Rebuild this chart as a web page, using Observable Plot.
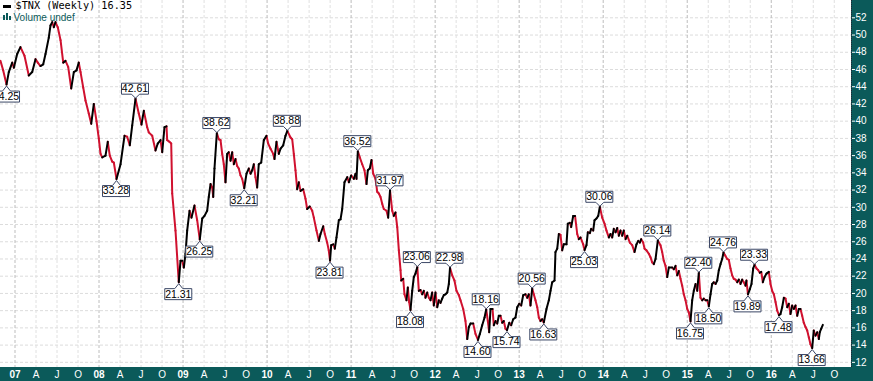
<!DOCTYPE html>
<html><head><meta charset="utf-8">
<script src="https://cdn.jsdelivr.net/npm/d3@7"></script>
<script src="https://cdn.jsdelivr.net/npm/@observablehq/plot@0.6"></script>
<style>
html,body{margin:0;padding:0;background:#fff;}
#wrap{position:relative;width:873px;height:381px;overflow:hidden;background:#fff;}
.panel{position:absolute;background:#0b5a5a;}
#chart{position:absolute;left:0;top:0;}
#dash{position:absolute;left:3px;top:5px;width:8px;height:2.5px;background:#000;}
.bar{position:absolute;background:#0b5a5a;width:2px;}
</style></head><body>
<div id="wrap">
  <div class="panel" style="left:851px;top:0;width:22px;height:381px"></div>
  <div class="panel" style="left:0;top:367px;width:873px;height:14px"></div>
  <div id="chart"></div>
  <div id="dash"></div>
  <div class="bar" style="left:3px;top:15px;height:5px"></div>
  <div class="bar" style="left:6px;top:13px;height:7px"></div>
  <div class="bar" style="left:9px;top:16px;height:4px"></div>
</div>
<script>
// Weekly $TNX (decimal year, value)
const times = [
2006.827,2006.859,2006.899,2006.926,2006.967,2006.986,2007.026,2007.065,2007.113,2007.164,
2007.205,2007.244,2007.271,2007.303,2007.336,2007.363,2007.402,2007.422,2007.443,2007.462,
2007.482,2007.509,2007.542,2007.574,2007.601,2007.633,2007.669,2007.700,2007.732,2007.759,
2007.780,2007.812,2007.839,2007.878,2007.907,2007.938,2007.970,2007.997,2008.018,2008.038,
2008.077,2008.104,2008.128,2008.157,2008.176,2008.208,2008.256,2008.303,2008.335,2008.366,
2008.395,2008.434,2008.473,2008.505,2008.533,2008.573,2008.592,2008.633,2008.672,2008.699,
2008.732,2008.752,2008.779,2008.803,2008.811,2008.839,2008.859,2008.871,2008.910,2008.949,
2008.970,2008.990,2009.009,2009.029,2009.049,2009.077,2009.100,2009.136,2009.168,2009.199,
2009.228,2009.255,2009.287,2009.306,2009.327,2009.347,2009.359,2009.374,2009.402,2009.425,
2009.446,2009.466,2009.485,2009.505,2009.525,2009.544,2009.565,2009.585,2009.604,2009.624,
2009.644,2009.663,2009.684,2009.704,2009.728,2009.755,2009.782,2009.803,2009.823,2009.842,
2009.862,2009.882,2009.901,2009.930,2009.961,2009.993,2010.013,2010.041,2010.073,2010.088,
2010.112,2010.139,2010.160,2010.192,2010.219,2010.241,2010.279,2010.299,2010.318,2010.338,
2010.358,2010.378,2010.398,2010.430,2010.457,2010.477,2010.508,2010.537,2010.556,2010.588,
2010.616,2010.636,2010.668,2010.687,2010.715,2010.734,2010.749,2010.763,2010.787,2010.806,
2010.826,2010.854,2010.874,2010.894,2010.921,2010.954,2010.973,2011.001,2011.032,2011.052,
2011.064,2011.080,2011.103,2011.132,2011.159,2011.183,2011.199,2011.222,2011.243,2011.263,
2011.290,2011.311,2011.330,2011.350,2011.370,2011.389,2011.421,2011.441,2011.463,2011.489,
2011.508,2011.528,2011.549,2011.568,2011.588,2011.596,2011.620,2011.635,2011.659,2011.675,
2011.691,2011.707,2011.727,2011.746,2011.766,2011.788,2011.806,2011.826,2011.846,2011.865,
2011.885,2011.906,2011.925,2011.945,2011.965,2011.984,2012.004,2012.025,2012.044,2012.064,
2012.084,2012.103,2012.123,2012.144,2012.163,2012.177,2012.203,2012.230,2012.254,2012.282,
2012.302,2012.334,2012.361,2012.382,2012.401,2012.421,2012.453,2012.480,2012.510,2012.532,
2012.560,2012.588,2012.608,2012.627,2012.643,2012.659,2012.683,2012.698,2012.718,2012.739,
2012.758,2012.778,2012.798,2012.817,2012.837,2012.855,2012.882,2012.905,2012.929,2012.956,
2012.977,2013.001,2013.024,2013.048,2013.075,2013.096,2013.115,2013.135,2013.155,2013.174,
2013.194,2013.215,2013.234,2013.254,2013.274,2013.293,2013.325,2013.353,2013.373,2013.393,
2013.421,2013.432,2013.453,2013.472,2013.492,2013.512,2013.531,2013.563,2013.579,2013.603,
2013.619,2013.643,2013.665,2013.691,2013.710,2013.730,2013.762,2013.778,2013.801,2013.817,
2013.841,2013.857,2013.881,2013.897,2013.920,2013.941,2013.960,2013.988,2014.016,2014.039,
2014.067,2014.087,2014.107,2014.126,2014.147,2014.167,2014.186,2014.206,2014.226,2014.245,
2014.266,2014.286,2014.317,2014.345,2014.373,2014.396,2014.417,2014.436,2014.452,2014.476,
2014.492,2014.515,2014.543,2014.563,2014.583,2014.602,2014.623,2014.650,2014.682,2014.702,
2014.721,2014.742,2014.762,2014.781,2014.821,2014.840,2014.861,2014.881,2014.900,2014.920,
2014.940,2014.959,2014.980,2015.000,2015.019,2015.039,2015.059,2015.078,2015.099,2015.119,
2015.138,2015.158,2015.178,2015.197,2015.218,2015.238,2015.257,2015.277,2015.297,2015.316,
2015.337,2015.357,2015.376,2015.396,2015.416,2015.432,2015.452,2015.476,2015.495,2015.515,
2015.535,2015.554,2015.575,2015.595,2015.614,2015.634,2015.654,2015.673,2015.694,2015.705,
2015.723,2015.745,2015.765,2015.785,2015.801,2015.825,2015.845,2015.864,2015.881,2015.900,
2015.920,2015.944,2015.971,2015.991,2016.011,2016.031,2016.051,2016.071,2016.092,2016.110,
2016.130,2016.150,2016.170,2016.190,2016.209,2016.229,2016.249,2016.268,2016.289,2016.309,
2016.328,2016.348,2016.368,2016.387,2016.408,2016.428,2016.447,2016.467,2016.487,2016.506,
2016.527,2016.547,2016.566,2016.578,2016.595,2016.614
];
const values = [
47.0,45.9,44.25,45.7,46.8,46.2,47.8,48.6,47.6,45.3,
45.7,47.2,46.8,46.4,46.6,47.8,49.7,51.1,51.5,50.9,
51.5,50.9,49.4,46.8,47.0,46.3,43.8,45.7,45.9,46.8,
45.7,43.9,42.4,40.9,39.7,42.0,40.0,38.0,36.2,35.8,
36.0,37.6,36.0,35.3,35.2,33.28,35.0,38.3,38.2,37.2,
39.5,42.61,40.9,39.6,41.2,39.3,38.7,38.3,36.6,37.4,
37.8,36.4,39.3,39.4,37.8,37.6,37.4,31.6,27.3,21.31,
23.8,23.8,23.0,24.6,27.3,29.6,28.8,30.2,28.5,26.25,
28.7,29.0,29.6,31.2,32.7,32.3,31.2,34.5,38.62,37.9,
37.8,36.2,35.0,32.9,36.2,36.4,35.4,36.4,35.0,35.6,
34.8,34.5,33.7,33.3,32.21,33.9,34.5,33.9,34.3,35.0,
33.5,32.3,35.0,35.2,37.8,38.3,37.4,36.8,36.2,35.6,
37.6,36.2,36.8,37.2,38.3,38.88,38.1,37.9,36.2,34.3,
32.1,32.9,31.9,32.1,31.0,29.8,30.1,29.6,28.8,27.3,
26.1,26.9,27.8,26.9,25.9,25.0,23.81,25.6,25.7,25.2,
26.5,28.5,28.6,29.8,32.9,33.5,32.9,33.7,33.3,33.9,
33.3,36.52,35.8,35.0,34.3,32.7,34.3,34.5,35.5,33.9,
33.3,31.8,31.6,31.2,30.4,29.8,29.6,28.8,31.97,29.6,
29.0,29.4,27.7,25.0,22.7,21.5,21.7,19.9,19.2,20.7,
19.0,18.08,20.3,21.9,22.3,23.06,20.3,20.4,19.9,20.3,
19.5,20.1,19.5,19.2,20.1,18.6,20.1,18.4,19.2,18.9,
19.4,19.8,19.9,20.1,21.1,22.98,22.1,21.5,20.3,19.8,
19.2,18.2,16.8,14.7,16.1,16.5,16.5,15.3,14.60,15.3,
16.3,17.2,18.16,16.8,15.5,18.2,18.2,16.3,16.8,16.5,
17.4,17.4,16.6,16.8,15.9,15.74,16.6,16.3,17.0,17.2,
18.4,18.8,18.6,19.8,19.9,19.5,19.9,18.6,20.56,19.9,
19.2,18.4,17.2,16.8,17.0,16.63,18.2,19.2,20.3,21.3,
21.5,24.8,25.2,26.9,26.8,25.0,25.7,25.7,28.1,28.2,
27.7,29.0,29.0,26.9,26.3,26.5,25.7,25.03,25.6,27.1,
27.0,27.5,27.3,28.5,28.7,29.0,30.06,28.8,28.1,27.3,
26.5,26.9,26.5,27.5,27.1,27.6,26.7,27.3,26.7,27.3,
26.3,26.7,25.9,25.6,24.8,25.7,26.1,25.9,26.3,25.9,
25.2,25.0,24.6,24.2,23.6,23.4,24.0,26.14,25.6,24.8,
23.8,23.2,21.9,23.0,23.0,22.8,23.2,22.1,22.6,21.7,
20.9,19.9,19.2,18.2,17.8,16.75,19.2,20.3,21.1,20.3,
22.40,19.5,19.2,19.4,19.2,19.2,18.50,19.9,21.1,21.3,
21.1,21.5,22.7,23.4,24.0,24.76,24.4,24.0,23.9,22.9,
22.1,21.7,21.6,21.3,21.6,21.1,21.6,21.3,20.9,21.5,
19.89,20.5,21.1,22.9,23.33,22.9,22.7,22.4,22.5,21.3,
21.9,22.3,22.5,21.1,20.3,19.9,19.0,18.0,17.48,17.6,
18.4,19.5,19.4,18.4,18.8,17.6,18.6,18.2,18.6,17.4,
18.2,18.2,17.4,16.6,16.1,15.7,14.9,14.1,13.66,15.7,
15.1,15.5,14.7,15.5,15.9,16.35
];
// Peak / trough annotations
const annTimes  = [2006.899,2008.208,2008.434,2008.949,2009.199,2009.402,2009.728,2010.241,2010.749,2011.080,
                   2011.463,2011.707,2011.788,2012.177,2012.510,2012.608,2012.855,2013.155,2013.293,2013.778,
                   2013.960,2014.650,2015.039,2015.138,2015.257,2015.432,2015.723,2015.801,2016.092,2016.487];
const annValues = [44.25,33.28,42.61,21.31,26.25,38.62,32.21,38.88,23.81,36.52,
                   31.97,18.08,23.06,22.98,14.60,18.16,15.74,20.56,16.63,25.03,
                   30.06,26.14,16.75,22.40,18.50,24.76,19.89,23.33,17.48,13.66];
const annSides  = ["low","low","high","low","low","high","low","high","low","high",
                   "high","low","high","high","low","high","low","high","low","low",
                   "high","high","low","high","low","high","low","high","low","low"];
const yTicks = [12,14,16,18,20,22,24,26,28,30,32,34,36,38,40,42,44,46,48,50,52];
const yearTicks = [2007,2008,2009,2010,2011,2012,2013,2014,2015,2016];
const yearLabels = ["07","08","09","10","11","12","13","14","15","16"];
const monthLabels = ["A","J","O"];
const titleText = "$TNX (Weekly) 16.35";
const volumeText = "Volume undef";

const xDomain = [2006.8274, 2016.955];
const yDomain = [11.40, 54.01];

const series = times.map((t, i) => ({t, v: values[i]}));
const segs = series.slice(1).map((d, i) => ({t1: series[i].t, v1: series[i].v, t2: d.t, v2: d.v, up: d.v >= series[i].v}));
const ann = annTimes.map((t, i) => ({t, v: annValues[i], side: annSides[i], label: annValues[i].toFixed(2)}));
const monthTicks = [];
yearTicks.forEach(y => [1,2,3].forEach(q => monthTicks.push(y + q/4)));

const bubbleHigh = {draw(c) {
  c.moveTo(-14,-15.5); c.lineTo(13,-15.5); c.lineTo(13,-4.5); c.lineTo(4,-4.5);
  c.lineTo(0,-0.5); c.lineTo(-4,-4.5); c.lineTo(-14,-4.5); c.closePath();
}};
const bubbleLow = {draw(c) {
  c.moveTo(0,1.5); c.lineTo(4,6.5); c.lineTo(13,6.5); c.lineTo(13,17.5);
  c.lineTo(-14,17.5); c.lineTo(-14,6.5); c.lineTo(-4,6.5); c.closePath();
}};

const RED = "#d0112f";
const BORDER = "#3b4766";
const TEAL = "#0b5a5a";

const chart = Plot.plot({
  width: 873, height: 381,
  marginLeft: 0, marginRight: 22, marginTop: 0, marginBottom: 14,
  style: {background: "transparent", fontFamily: "'Liberation Sans', Arial, sans-serif"},
  x: {type: "linear", domain: xDomain, axis: null},
  y: {type: "linear", domain: yDomain, axis: null},
  marks: [
    Plot.ruleY(yTicks, {stroke: "#dcdcdc", strokeDasharray: "3,2"}),
    Plot.ruleX(monthTicks, {stroke: "#e0e0e0", strokeDasharray: "3,2"}),
    Plot.ruleX(yearTicks, {stroke: "#bdbdbd", strokeDasharray: "3,2"}),
    Plot.link(segs.filter(d => !d.up), {x1: "t1", y1: "v1", x2: "t2", y2: "v2", stroke: RED, strokeWidth: 2, strokeLinecap: "round"}),
    Plot.link(segs.filter(d => d.up), {x1: "t1", y1: "v1", x2: "t2", y2: "v2", stroke: "#000", strokeWidth: 2, strokeLinecap: "round"}),
    Plot.dot(ann.filter(d => d.side === "high"), {x: "t", y: "v", symbol: bubbleHigh, fill: "white", stroke: BORDER, strokeWidth: 1}),
    Plot.dot(ann.filter(d => d.side === "low"), {x: "t", y: "v", symbol: bubbleLow, fill: "white", stroke: BORDER, strokeWidth: 1}),
    Plot.text(ann.filter(d => d.side === "high"), {x: "t", y: "v", text: "label", dx: -0.5, dy: -10, fontSize: 10.5, fill: "#000"}),
    Plot.text(ann.filter(d => d.side === "low"), {x: "t", y: "v", text: "label", dx: -0.5, dy: 12, fontSize: 10.5, fill: "#000"}),
    Plot.ruleX([xDomain[1]], {stroke: "#223", strokeDasharray: "1,1"}),
    Plot.text([titleText], {text: d => d, frameAnchor: "top-left", dx: 15, dy: 5.5, lineAnchor: "middle", textAnchor: "start",
      fontFamily: "'DejaVu Sans Mono', monospace", fontSize: 10.2, fill: "#000"}),
    Plot.text([volumeText], {text: d => d, frameAnchor: "top-left", dx: 13, dy: 16.8, lineAnchor: "middle", textAnchor: "start",
      fontFamily: "'Liberation Sans', Arial, sans-serif", fontSize: 10, fill: TEAL}),
    Plot.axisY(yTicks, {anchor: "right", tickSize: 3, tickPadding: 1, color: "white", fontSize: 10, label: null, tickFormat: d => String(d)}),
    Plot.axisX(yearTicks, {anchor: "bottom", tickSize: 0, tickPadding: 3, color: "white", fontSize: 10, fontWeight: "bold", label: null,
      tickFormat: d => yearLabels[yearTicks.indexOf(d)]}),
    Plot.axisX(monthTicks, {anchor: "bottom", tickSize: 0, tickPadding: 3, color: "white", fontSize: 10, label: null,
      tickFormat: d => monthLabels[Math.round((d - Math.floor(d)) * 4) - 1]})
  ]
});
document.getElementById("chart").appendChild(chart);
</script>
</body></html>
